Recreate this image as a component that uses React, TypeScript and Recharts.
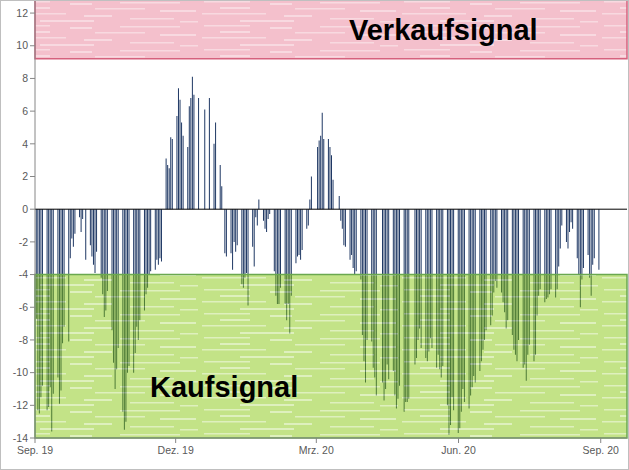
import React from 'react';
import { BarChart, Bar, XAxis, YAxis, ReferenceArea, ReferenceLine } from 'recharts';

// axis runs on calendar days; bars sit on trading days (Mon-Fri)
const axisStart = '2019-09-01';
const axisEnd = '2020-09-18';
const firstMonday = '2019-09-02';

// one row per trading week, Monday..Friday, null = no bar
const autumn2019: (number | null)[][] = [
  [-6.7, -12.3, -12.5, -11.5, -10.8],
  [-12.3, -12.1, -10.9, -13.6, -11.3],
  [-10.3, -11.9, -11.1, -8.2, -7.2],
  [-8.1, -3.0, -1.8, -2.3, -1.5],
  [-0.5, -1.4, -0.6, null, -3.1],
  [-2.2, -2.9, -3.4, -3.9, -2.6],
  [-4.2, -5.2, -6.6, -6.2, -5.0],
  [-7.4, -9.4, -11.0, -9.8, -8.5],
  [-12.4, -13.5, -13.0, -10.0, -9.6],
  [-10.0, -8.8, -7.2, -8.0, -6.8],
  [-6.2, -5.2, -4.8, -4.0, -3.8],
  [-3.7, -3.1, -3.4, -3.0, -3.2],
  [3.1, 2.7, 2.5, 4.4, 4.3],
];

const winter2020: (number | null)[][] = [
  [5.7, 7.4, 6.7, 5.3, 4.5],
  [3.8, 6.3, 6.8, 8.1, 7.0],
  [6.8, null, null, null, 6.1],
  [6.8, null, null, 4.0, 5.3],
  [2.7, 1.4, null, -2.7, -2.9],
  [-2.7, -3.7, -2.0, -2.6, -2.2],
  [-4.6, -4.8, -4.2, -3.9, -5.9],
  [-2.3, -3.5, -0.5, -1.0, 0.6],
  [-0.7, -1.2, -1.4, -0.6, -0.3],
  [-3.8, -5.3, -5.8, -5.8, -4.8],
  [-5.8, -6.8, -5.8, -7.6, -5.3],
  [-3.3, -2.9, -2.8, -3.1, -2.5],
  [-1.2, -1.0, 0.6, 2.0, null],
];

const spring2020: (number | null)[][] = [
  [3.8, 4.2, 4.5, 5.9, 4.3],
  [4.3, 3.8, 3.3, 1.8, null],
  [0.8, -0.7, -1.2, -2.2, -2.3],
  [-3.1, -2.8, -3.6, -4.0, -3.8],
  [-4.3, -7.7, -9.3, -10.6, -8.0],
  [-8.1, -9.7, -10.3, -11.4, null],
  [-10.6, -11.7, -11.0, -9.5, -10.4],
  [-9.9, -11.4, -12.2, -11.6, -10.8],
  [-12.4, -11.8, -11.8, -11.6, null],
  [-9.5, -9.1, -8.0, -7.3, -8.5],
  [-9.1, -9.3, -8.7, -7.9, -8.5],
  [-9.7, -8.9, -9.8, -10.3, -9.6],
  [-12.0, -13.8, -13.2, -11.5, -12.3],
];

const summer2020: (number | null)[][] = [
  [-13.7, -13.4, -12.4, -11.0, -11.8],
  [-12.2, -11.4, -10.9, -10.2, -10.6],
  [-9.9, -9.3, -8.6, -8.0, -7.4],
  [-7.1, -6.5, -5.1, -4.4, -4.8],
  [-5.1, -5.7, -6.3, -7.3, -6.8],
  [-7.7, -8.6, -8.9, -9.3, -8.0],
  [-9.7, -9.5, -10.5, -8.9, -8.3],
  [-9.3, -8.9, -6.5, -5.3, -4.9],
  [-5.7, -5.5, -5.4, -5.2, -4.9],
  [-5.4, -4.9, -3.5, -2.4, -1.0],
  [-2.0, -2.4, -1.4, -0.8, -1.2],
  [-3.0, -4.0, -6.0, -4.3, -3.6],
  [-2.8, -4.2, -5.3, -3.4, -3.0],
  [-3.7],
];

const tickDates = ['2019-09-01', '2019-12-01', '2020-03-01', '2020-06-01', '2020-09-01'];
const tickLabels = ['Sep. 19', 'Dez. 19', 'Mrz. 20', 'Jun. 20', 'Sep. 20'];
const yTicks = [-14, -12, -10, -8, -6, -4, -2, 0, 2, 4, 6, 8, 10, 12];
const yDomain = [-14, 12.8];

const sellZone = [9.2, 12.8];
const buyZone = [-14, -4];

const dayOf = (iso: string) => Math.round((Date.parse(iso) - Date.parse(axisStart)) / 86400000);

const weeks = [...autumn2019, ...winter2020, ...spring2020, ...summer2020];
const data = weeks.flatMap((week, w) =>
  week.map((value, d) => ({ day: dayOf(firstMonday) + w * 7 + d, value }))
);
const tickDays = tickDates.map(dayOf);

const tickStyle = { fontSize: 10.5, fill: '#595959', fontFamily: 'Liberation Sans, Arial, sans-serif' };

// streaky "paper" texture for the two signal bands
const Streaks = ({ opacity }: { opacity: number }) => (
  <g fill="#fff" opacity={opacity}>
    <rect x="4" y="1" width="46" height="1.5" />
    <rect x="70" y="3" width="22" height="2" />
    <rect x="120" y="2" width="60" height="1.5" />
    <rect x="20" y="7" width="30" height="2" />
    <rect x="95" y="8" width="50" height="1.5" />
    <rect x="160" y="10" width="36" height="2" />
    <rect x="2" y="13" width="64" height="1.5" />
    <rect x="84" y="15" width="28" height="2" />
    <rect x="130" y="18" width="44" height="1.5" />
    <rect x="40" y="20" width="54" height="2" />
    <rect x="180" y="21" width="18" height="1.5" />
  </g>
);

export default function App() {
  return (
    <div style={{ position: 'absolute', left: 0, top: 0, width: 629, height: 470, background: '#fff' }}>
      <BarChart width={629} height={470} data={data} margin={{ top: 0, right: 2, bottom: 0, left: 0 }}>
        <defs>
          <pattern id="pinkTex" width="200" height="24" patternUnits="userSpaceOnUse">
            <rect width="200" height="24" fill="#f4c0cc" />
            <Streaks opacity={0.4} />
          </pattern>
          <pattern id="greenTex" width="200" height="24" patternUnits="userSpaceOnUse">
            <rect width="200" height="24" fill="#80c400" />
            <Streaks opacity={0.45} />
          </pattern>
        </defs>
        <XAxis
          type="number"
          dataKey="day"
          domain={[0, dayOf(axisEnd)]}
          ticks={tickDays}
          interval={0}
          tickFormatter={(v: number) => tickLabels[tickDays.indexOf(v)]}
          height={32}
          tickSize={5}
          tickMargin={4}
          axisLine={{ stroke: '#868686' }}
          tickLine={{ stroke: '#868686' }}
          tick={tickStyle}
          allowDataOverflow
        />
        <YAxis
          type="number"
          domain={yDomain}
          ticks={yTicks}
          interval={0}
          width={35}
          tickSize={5}
          tickMargin={2}
          axisLine={{ stroke: '#868686' }}
          tickLine={{ stroke: '#868686' }}
          tick={tickStyle}
          allowDataOverflow
        />
        <Bar dataKey="value" fill="#1f3864" barSize={1} isAnimationActive={false} />
        <ReferenceLine y={0} stroke="#000" strokeWidth={1} />
        <ReferenceArea
          y1={sellZone[0]}
          y2={sellZone[1]}
          fill="url(#pinkTex)"
          fillOpacity={1}
          stroke="#d5617d"
          strokeWidth={1.5}
          zIndex={350}
        />
        <ReferenceArea
          y1={buyZone[0]}
          y2={buyZone[1]}
          fill="url(#greenTex)"
          fillOpacity={0.47}
          stroke="#6aa84f"
          strokeOpacity={1}
          strokeWidth={1.5}
          zIndex={350}
        />
      </BarChart>
      <svg
        width={629}
        height={470}
        style={{ position: 'absolute', left: 0, top: 0, pointerEvents: 'none' }}
      >
        <text x={349} y={40} fontSize={29} fontWeight="bold" fontFamily="Liberation Sans, Arial, sans-serif" fill="#000">
          Verkaufsignal
        </text>
        <text x={150} y={397} fontSize={29} fontWeight="bold" fontFamily="Liberation Sans, Arial, sans-serif" fill="#000">
          Kaufsignal
        </text>
        <rect x={0.5} y={0.5} width={628} height={469} fill="none" stroke="#bfbfbf" />
      </svg>
    </div>
  );
}
